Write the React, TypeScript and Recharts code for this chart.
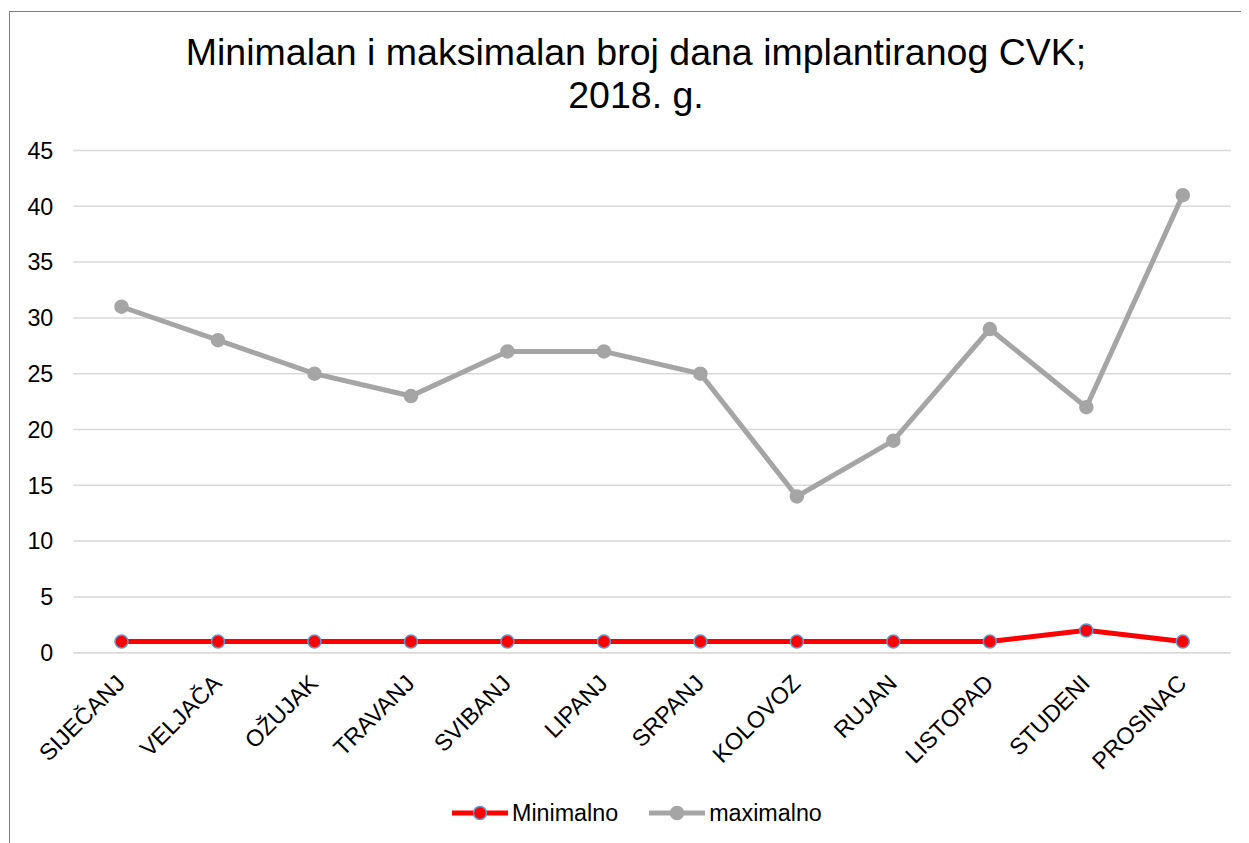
import React from 'react';
import { LineChart, Line, XAxis, YAxis, CartesianGrid, Legend } from 'recharts';

const months = ['SIJEČANJ', 'VELJAČA', 'OŽUJAK', 'TRAVANJ', 'SVIBANJ', 'LIPANJ', 'SRPANJ', 'KOLOVOZ', 'RUJAN', 'LISTOPAD', 'STUDENI', 'PROSINAC'];
const minimalno = [1, 1, 1, 1, 1, 1, 1, 1, 1, 1, 2, 1];
const maximalno = [31, 28, 25, 23, 27, 27, 25, 14, 19, 29, 22, 41];
const yTicks = [0, 5, 10, 15, 20, 25, 30, 35, 40, 45];
const titleLines = ['Minimalan i maksimalan broj dana implantiranog CVK;', '2018. g.'];

const data = months.map((m, i) => ({ month: m, Minimalno: minimalno[i], maximalno: maximalno[i] }));

const FONT = 'Arial, "Liberation Sans", sans-serif';
const FS = 23.3;
const RED = '#FF0000';
const BLUE = '#5B9BD5';
const GRAY = '#A5A5A5';

const XTick = (props: any) => {
  const { x, y, payload } = props;
  return (
    <g transform={`translate(${x + 5},${y + 32})`}>
      <text x={0} y={0} textAnchor="end" transform="rotate(-45)" fontSize={FS} fontFamily={FONT} fill="#000">
        {payload.value}
      </text>
    </g>
  );
};

const LegendContent = () => {
  const item = (label: string, color: string, stroke: string, gap: number) => (
    <div style={{ display: 'flex', alignItems: 'center', marginRight: gap }}>
      <svg width={56} height={20} style={{ display: 'block' }}>
        <line x1={0} y1={10} x2={56} y2={10} stroke={color} strokeWidth={5} />
        <circle cx={28} cy={10} r={6.5} fill={color} stroke={stroke} strokeWidth={1.5} />
      </svg>
      <span style={{ fontSize: FS, fontFamily: FONT, color: '#000', marginLeft: 4, whiteSpace: 'nowrap' }}>{label}</span>
    </div>
  );
  return (
    <div style={{ height: 40, display: 'flex', alignItems: 'center', justifyContent: 'flex-start', paddingLeft: 444 }}>
      {item('Minimalno', RED, BLUE, 31)}
      {item('maximalno', GRAY, GRAY, 0)}
    </div>
  );
};

export default function App() {
  return (
    <div style={{ position: 'relative', width: 1241, height: 835, background: '#fff' }}>
      <div
        style={{
          position: 'absolute',
          left: 1,
          top: 3,
          width: 1300,
          height: 900,
          borderLeft: '1px solid #7f7f7f',
          borderTop: '1px solid #7f7f7f',
          boxSizing: 'border-box',
        }}
      />
      <div
        style={{
          position: 'absolute',
          left: 0,
          top: 23,
          width: 1256,
          textAlign: 'center',
          fontFamily: FONT,
          fontSize: 37.5,
          lineHeight: '43px',
          color: '#000',
        }}
      >
        {titleLines.map((t) => (
          <div key={t}>{t}</div>
        ))}
      </div>
      <div style={{ position: 'absolute', left: 0, top: 0 }}>
        <LineChart width={1241} height={835} data={data} margin={{ top: 142.5, right: 18, left: 0, bottom: 10 }}>
          <CartesianGrid vertical={false} stroke="#d9d9d9" strokeWidth={1.5} />
          <XAxis
            dataKey="month"
            height={140.3}
            tickSize={0}
            tickMargin={0}
            tickLine={false}
            axisLine={{ stroke: '#d9d9d9', strokeWidth: 1.5 }}
            padding={{ left: 48.2, right: 48.2 }}
            interval={0}
            tick={<XTick />}
          />
          <YAxis
            domain={[0, 45]}
            ticks={yTicks}
            width={65.3}
            tickSize={0}
            tickMargin={20}
            tickLine={false}
            axisLine={false}
            tick={{ fontSize: FS, fontFamily: FONT, fill: '#000' }}
            interval={0}
          />
          <Legend
            verticalAlign="bottom"
            height={40}
            wrapperStyle={{ left: 0, width: 1241 }}
            content={<LegendContent />}
          />
          <Line
            type="linear"
            dataKey="maximalno"
            stroke={GRAY}
            strokeWidth={5}
            dot={{ r: 6.5, fill: GRAY, stroke: GRAY, strokeWidth: 1.5 }}
            isAnimationActive={false}
          />
          <Line
            type="linear"
            dataKey="Minimalno"
            stroke={RED}
            strokeWidth={5}
            dot={{ r: 6.5, fill: RED, stroke: BLUE, strokeWidth: 1.5 }}
            isAnimationActive={false}
          />
        </LineChart>
      </div>
    </div>
  );
}
